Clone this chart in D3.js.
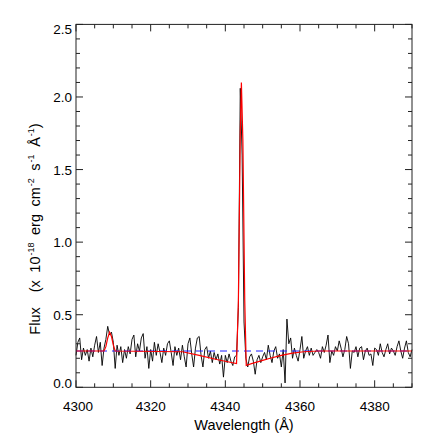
<!DOCTYPE html>
<html>
<head>
<meta charset="utf-8">
<script src="https://cdn.jsdelivr.net/npm/d3@7"></script>
<style>
  body { margin: 0; background: #ffffff; }
  svg { display: block; }
</style>
</head>
<body>
<script>
// Spectrum data: observed flux, 0.5 A sampling from 4300 to 4390
var waveStart = 4300;
var waveStep = 0.5;
var fluxObs = [
  0.22, 0.31, 0.34, 0.19, 0.27, 0.22, 0.26, 0.18, 0.27, 0.21,
  0.29, 0.35, 0.24, 0.31, 0.15, 0.27, 0.33, 0.42, 0.36, 0.38,
  0.31, 0.13, 0.29, 0.22, 0.28, 0.17, 0.26, 0.20, 0.28, 0.23,
  0.33, 0.36, 0.21, 0.30, 0.25, 0.34, 0.37, 0.20, 0.28, 0.13,
  0.26, 0.18, 0.31, 0.22, 0.30, 0.24, 0.17, 0.27, 0.22, 0.30,
  0.32, 0.24, 0.15, 0.28, 0.22, 0.27, 0.19, 0.29, 0.21, 0.14,
  0.30, 0.34, 0.23, 0.14, 0.27, 0.34, 0.35, 0.22, 0.14, 0.26,
  0.28, 0.20, 0.25, 0.17, 0.24, 0.19, 0.23, 0.16, 0.22, 0.07,
  0.22, 0.17, 0.23, 0.18, 0.15, 0.21, 0.22, 0.55, 2.06, 1.60,
  0.45, 0.20, 0.14, 0.21, 0.23, 0.18, 0.09, 0.19, 0.22, 0.17,
  0.21, 0.24, 0.19, 0.29, 0.22, 0.17, 0.25, 0.28, 0.20, 0.23,
  0.14, 0.26, 0.03, 0.47, 0.30, 0.34, 0.20, 0.27, 0.22, 0.18,
  0.26, 0.35, 0.20, 0.25, 0.28, 0.22, 0.27, 0.22, 0.24, 0.26,
  0.24, 0.20, 0.28, 0.24, 0.29, 0.36, 0.17, 0.25, 0.22, 0.28,
  0.25, 0.32, 0.27, 0.21, 0.26, 0.35, 0.30, 0.13, 0.25, 0.24,
  0.28, 0.21, 0.27, 0.28, 0.19, 0.25, 0.27, 0.22, 0.23, 0.15,
  0.27, 0.26, 0.22, 0.30, 0.24, 0.21, 0.26, 0.30, 0.23, 0.27,
  0.25, 0.22, 0.28, 0.32, 0.25, 0.20, 0.27, 0.32, 0.24, 0.21,
  0.26
];

// Fitted model (red)
var modelWave = [4300, 4307.5, 4308, 4308.5, 4309, 4309.5, 4310, 4310.5, 4328.5, 4333, 4338, 4343.0,
                 4343.5, 4344.0, 4344.3, 4344.7, 4345.2, 4345.6, 4347, 4350, 4352, 4355, 4358, 4361, 4365, 4390];
var modelFlux = [0.25, 0.25, 0.28, 0.34, 0.38, 0.35, 0.29, 0.25, 0.245, 0.22, 0.19, 0.163,
                 0.60, 1.75, 2.10, 1.70, 0.60, 0.15, 0.163, 0.185, 0.20, 0.22, 0.235, 0.245, 0.25, 0.25];

// Continuum level (blue dashed)
var continuumWave = [4300, 4390];
var continuumFlux = [0.25, 0.25];

// Axis ticks
var xMajorTicks = [4300, 4320, 4340, 4360, 4380];
var yMajorTicks = [0.0, 0.5, 1.0, 1.5, 2.0, 2.5];

var width = 436;
var height = 436;
var plotLeft = 76, plotRight = 412, plotTop = 24.4, plotBottom = 387.3;

var fontFamily = "'Liberation Sans', Arial, Helvetica, sans-serif";
var axisColor = "#222222";

var svg = d3.select("body")
    .append("svg")
    .attr("width", width)
    .attr("height", height);

svg.append("rect")
    .attr("width", width)
    .attr("height", height)
    .attr("fill", "#ffffff");

var x = d3.scaleLinear().domain([4300, 4390]).range([plotLeft, plotRight]);
var y = d3.scaleLinear().domain([0, 2.5]).range([plotBottom, plotTop]);

var obs = fluxObs.map(function(v, i) { return [waveStart + i * waveStep, v]; });
var model = modelWave.map(function(w, i) { return [w, modelFlux[i]]; });
var cont = continuumWave.map(function(w, i) { return [w, continuumFlux[i]]; });

var line = d3.line()
    .x(function(d) { return x(d[0]); })
    .y(function(d) { return y(d[1]); });

var plot = svg.append("g");

plot.append("path")
    .attr("d", line(obs))
    .attr("fill", "none")
    .attr("stroke", "#000000")
    .attr("stroke-width", 0.9);

plot.append("path")
    .attr("d", line(cont))
    .attr("fill", "none")
    .attr("stroke", "#1f1fff")
    .attr("stroke-width", 1)
    .attr("stroke-dasharray", "7,5");

plot.append("path")
    .attr("d", line(model))
    .attr("fill", "none")
    .attr("stroke", "#ff0000")
    .attr("stroke-width", 1.2);

// Frame
svg.append("rect")
    .attr("x", plotLeft)
    .attr("y", plotTop)
    .attr("width", plotRight - plotLeft)
    .attr("height", plotBottom - plotTop)
    .attr("fill", "none")
    .attr("stroke", axisColor)
    .attr("stroke-width", 1);

// Ticks (inward on all four sides)
var majorLen = 7, minorLen = 4;
var xMinor = d3.range(4300, 4390.1, 5);
var yMinor = d3.range(0, 2.501, 0.1);

xMinor.forEach(function(v) {
  var len = (v % 20 === 0) ? majorLen : minorLen;
  svg.append("line").attr("x1", x(v)).attr("x2", x(v)).attr("y1", plotBottom).attr("y2", plotBottom - len)
      .attr("stroke", axisColor).attr("stroke-width", 1);
  svg.append("line").attr("x1", x(v)).attr("x2", x(v)).attr("y1", plotTop).attr("y2", plotTop + len)
      .attr("stroke", axisColor).attr("stroke-width", 1);
});

yMinor.forEach(function(v, i) {
  var len = (i % 5 === 0) ? majorLen : minorLen;
  svg.append("line").attr("x1", plotLeft).attr("x2", plotLeft + len).attr("y1", y(v)).attr("y2", y(v))
      .attr("stroke", axisColor).attr("stroke-width", 1);
  svg.append("line").attr("x1", plotRight).attr("x2", plotRight - len).attr("y1", y(v)).attr("y2", y(v))
      .attr("stroke", axisColor).attr("stroke-width", 1);
});

// Tick labels
svg.selectAll(".xlab")
    .data(xMajorTicks)
    .enter()
    .append("text")
    .attr("x", function(d, i) { return x(d) + (i === 0 ? 2 : 0); })
    .attr("y", 410.5)
    .attr("text-anchor", "middle")
    .attr("font-family", fontFamily)
    .attr("font-size", "13.5px")
    .attr("fill", "#000")
    .text(function(d) { return d; });

svg.selectAll(".ylab")
    .data(yMajorTicks)
    .enter()
    .append("text")
    .attr("x", 72)
    .attr("y", function(d, i) {
      var off = 0;
      if (i === 0) off = -4;
      if (i === yMajorTicks.length - 1) off = 5;
      return y(d) + off + 5;
    })
    .attr("text-anchor", "end")
    .attr("font-family", fontFamily)
    .attr("font-size", "13.5px")
    .attr("fill", "#000")
    .text(function(d) { return d3.format(".1f")(d); });

// Axis titles
svg.append("text")
    .attr("x", (plotLeft + plotRight) / 2)
    .attr("y", 430)
    .attr("text-anchor", "middle")
    .attr("font-family", fontFamily)
    .attr("font-size", "14.5px")
    .attr("fill", "#000")
    .text("Wavelength (\u00c5)");

var ylab = svg.append("text")
    .attr("transform", "translate(40,229) rotate(-90)")
    .attr("text-anchor", "middle")
    .attr("font-family", fontFamily)
    .attr("font-size", "14.5px")
    .attr("word-spacing", "3.5px")
    .attr("fill", "#000");

var parts = [
  ["Flux\u00a0 (x 10", false],
  ["-18", true],
  [" erg cm", false],
  ["-2", true],
  [" s", false],
  ["-1", true],
  [" \u00c5", false],
  ["-1", true],
  [")", false]
];
parts.forEach(function(p, i) {
  var t = ylab.append("tspan").text(p[0]);
  if (p[1]) {
    t.attr("font-size", "9px").attr("dy", "-6").attr("dx", "1");
  } else if (i > 0) {
    t.attr("dy", "6");
  }
});
</script>
</body>
</html>
